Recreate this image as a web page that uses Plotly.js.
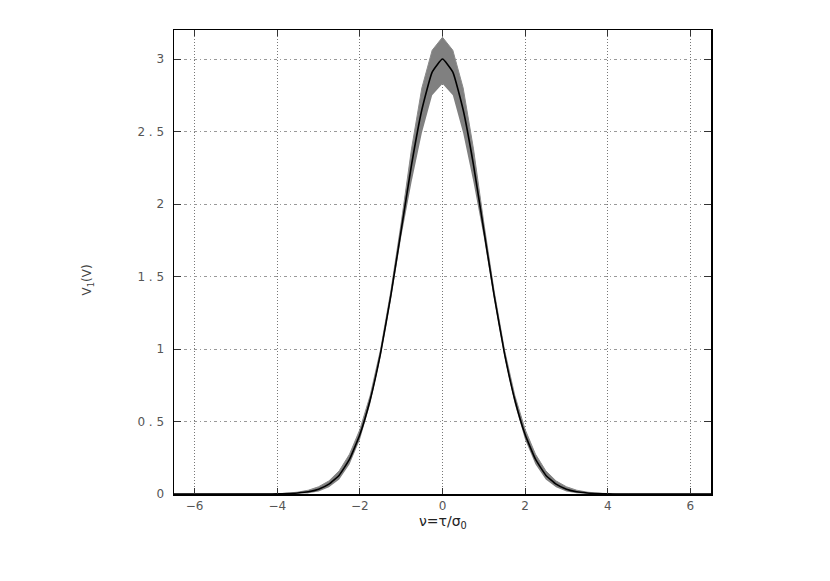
<!DOCTYPE html>
<html>
<head>
<meta charset="utf-8">
<script src="https://cdn.plot.ly/plotly-3.0.1.min.js"></script>
<style>html,body{margin:0;padding:0;background:#fff;}</style>
</head>
<body>
<div id="chart" style="width:830px;height:581px;"></div>
<script>
// nu = (tau)/sigma_0 sample points
const nu = [-6.5,-6.25,-6,-5.75,-5.5,-5.25,-5,-4.75,-4.5,-4.25,-4,-3.75,-3.5,-3.25,-3,-2.75,-2.5,-2.25,-2,-1.75,-1.5,-1.25,-1,-0.75,-0.5,-0.25,0,
            0.25,0.5,0.75,1,1.25,1.5,1.75,2,2.25,2.5,2.75,3,3.25,3.5,3.75,4,4.25,4.5,4.75,5,5.25,5.5,5.75,6,6.25,6.5];
// mean curve V_1(nu)
const v1 = [0,0,0,0,0,0,0,0,0,0,0.001,0.003,0.007,0.015,0.033,0.068,0.13,0.24,0.41,0.65,0.97,1.37,1.82,2.27,2.65,2.91,3.00,
            2.91,2.65,2.27,1.82,1.37,0.97,0.65,0.41,0.24,0.13,0.068,0.033,0.015,0.007,0.003,0.001,0,0,0,0,0,0,0,0,0,0];
// upper edge of shaded band
const v1Upper = [0,0,0,0,0,0,0,0,0,0,0.002,0.006,0.013,0.026,0.05,0.09,0.16,0.275,0.445,0.68,0.995,1.40,1.87,2.38,2.80,3.06,3.15,
                 3.06,2.80,2.38,1.87,1.40,0.995,0.68,0.445,0.275,0.16,0.09,0.05,0.026,0.013,0.006,0.002,0,0,0,0,0,0,0,0,0,0];
// lower edge of shaded band
const v1Lower = [0,0,0,0,0,0,0,0,0,0,0,0,0.001,0.005,0.017,0.046,0.1,0.205,0.375,0.62,0.945,1.34,1.77,2.15,2.49,2.75,2.83,
                 2.75,2.49,2.15,1.77,1.34,0.945,0.62,0.375,0.205,0.1,0.046,0.017,0.005,0.001,0,0,0,0,0,0,0,0,0,0,0,0];

const xTickVals = [-6,-4,-2,0,2,4,6];
const xTickText = ["−6","−4","−2","0","2","4","6"];
const yTickVals = [0,0.5,1,1.5,2,2.5,3];
const yTickText = ["0","0 . 5","1","1 . 5","2","2 . 5","3"];

const traces = [
  {x: nu, y: v1Lower, type: 'scatter', mode: 'lines', line: {width: 0, color: '#808080'}, hoverinfo: 'skip', showlegend: false},
  {x: nu, y: v1Upper, type: 'scatter', mode: 'lines', fill: 'tonexty', fillcolor: '#808080', line: {width: 1, color: '#8a8a8a'}, hoverinfo: 'skip', showlegend: false},
  {x: nu, y: v1, type: 'scatter', mode: 'lines', line: {width: 1.6, color: '#000000', shape: 'spline', smoothing: 0.4}, showlegend: false}
];

const tickFont = {family: 'DejaVu Sans, sans-serif', size: 12, color: '#555'};

const layout = {
  width: 830, height: 581,
  margin: {l: 174, r: 119, t: 30, b: 87},
  paper_bgcolor: '#fff', plot_bgcolor: '#fff',
  showlegend: false,
  xaxis: {
    range: [-6.5, 6.5], tickmode: 'array', tickvals: xTickVals, ticktext: xTickText,
    ticks: 'inside', ticklen: 6, tickcolor: '#333', tickwidth: 1,
    showline: true, linecolor: '#000', linewidth: 1.5, mirror: 'ticks',
    showgrid: true, gridcolor: '#777', gridwidth: 1, griddash: '1px,2px',
    zeroline: false, tickfont: tickFont
  },
  yaxis: {
    range: [0, 3.2], tickmode: 'array', tickvals: yTickVals, ticktext: yTickText,
    ticks: 'inside', ticklen: 7, tickcolor: '#333', tickwidth: 1,
    showline: true, linecolor: '#000', linewidth: 1.5, mirror: 'ticks',
    showgrid: true, gridcolor: '#999', gridwidth: 1, griddash: '3px,3px,1px,3px',
    zeroline: false, tickfont: tickFont, ticklabelstandoff: 6
  },
  annotations: [
    {text: 'ν=τ/σ<sub>0</sub>', xref: 'paper', yref: 'paper', x: 0.5, y: 0, yshift: -17, showarrow: false,
     xanchor: 'center', yanchor: 'top', font: {family: 'DejaVu Sans, sans-serif', size: 14, color: '#222'}},
    {text: 'V<sub>1</sub>(V)', xref: 'paper', yref: 'paper', x: 0, y: 0.46, xshift: -86, showarrow: false,
     textangle: -90, xanchor: 'center', yanchor: 'middle', font: {family: 'DejaVu Sans, sans-serif', size: 12, color: '#444'}}
  ]
};

Plotly.newPlot('chart', traces, layout, {staticPlot: true, displayModeBar: false});
</script>
</body>
</html>
